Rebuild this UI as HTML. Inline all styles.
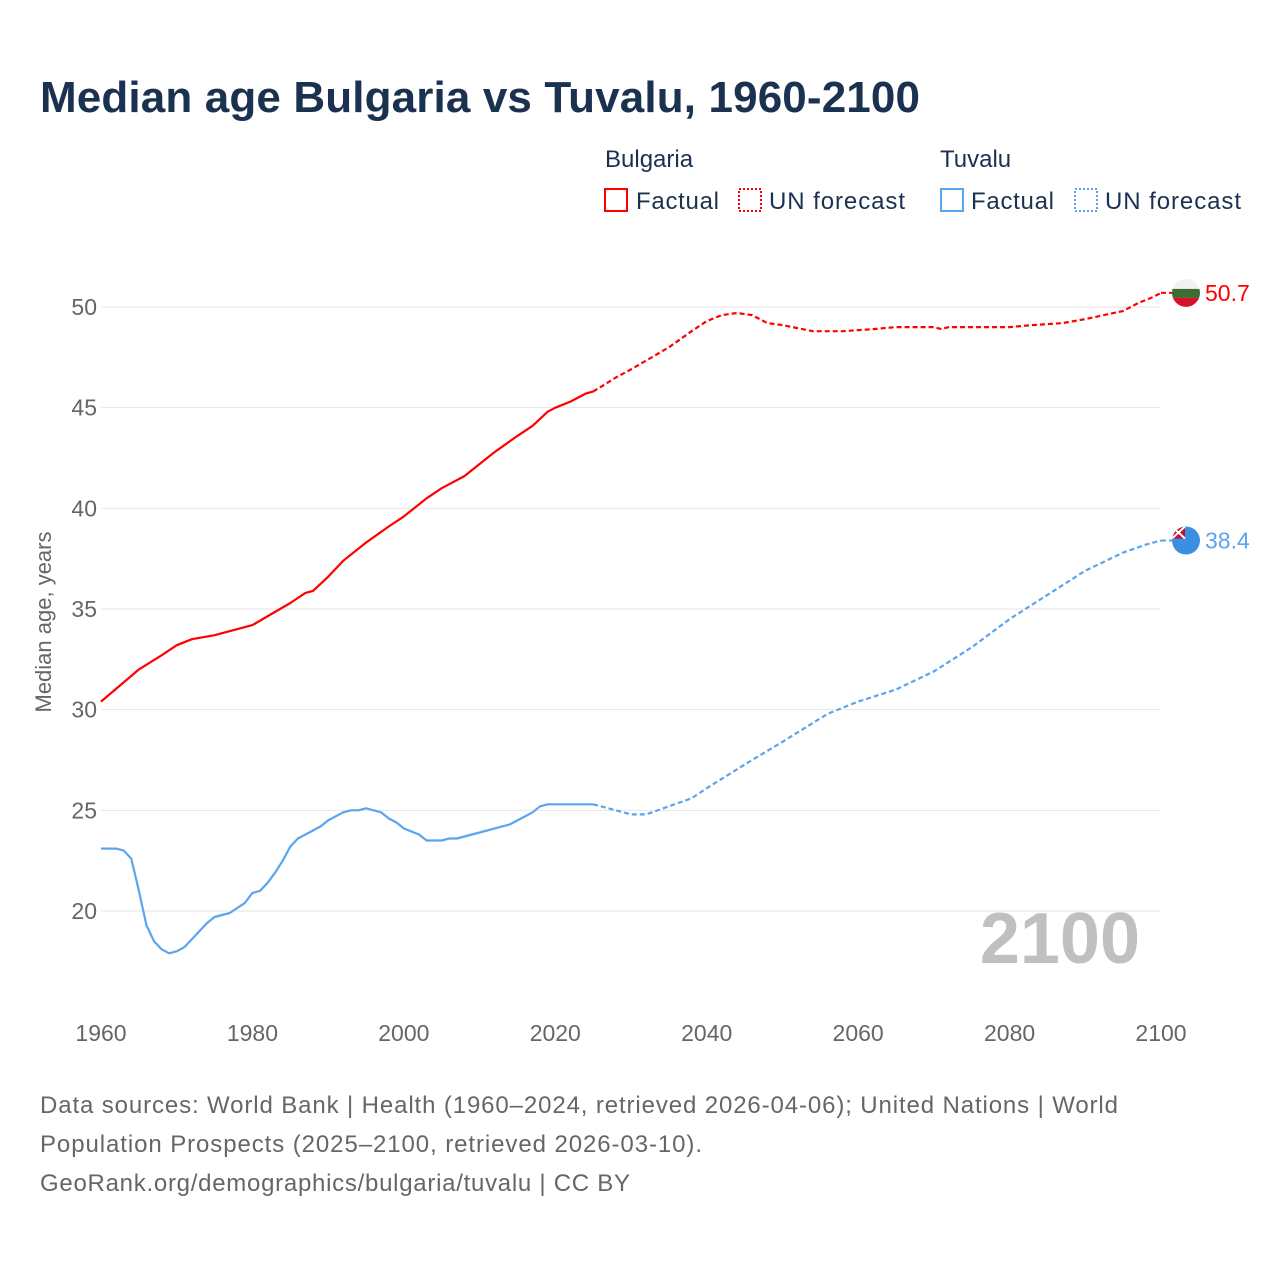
<!DOCTYPE html>
<html><head><meta charset="utf-8"><style>
body{margin:0;background:#fff;font-family:"Liberation Sans",sans-serif}
svg text{font-family:"Liberation Sans",sans-serif}
</style></head><body>
<svg width="1280" height="1280" viewBox="0 0 1280 1280">
<text x="40" y="112" font-size="44" font-weight="bold" fill="#1a3150" textLength="880">Median age Bulgaria vs Tuvalu, 1960-2100</text>
<g font-size="24" fill="#1a3150">
<text x="605" y="167">Bulgaria</text>
<rect x="605" y="189" width="22" height="22" fill="none" stroke="#f00" stroke-width="2"/>
<text x="636" y="209" textLength="83">Factual</text>
<rect x="739" y="189" width="22" height="22" fill="none" stroke="#f00" stroke-width="2" stroke-dasharray="2,2"/>
<text x="769" y="209" textLength="136">UN forecast</text>
<text x="940" y="167">Tuvalu</text>
<rect x="941" y="189" width="22" height="22" fill="none" stroke="#5aa5ee" stroke-width="2"/>
<text x="971" y="209" textLength="83">Factual</text>
<rect x="1075" y="189" width="22" height="22" fill="none" stroke="#5aa5ee" stroke-width="2" stroke-dasharray="2,2"/>
<text x="1105" y="209" textLength="136">UN forecast</text>
</g>
<g id="grid"></g>
<g id="marks"></g>
<text x="1140" y="963" font-size="72" font-weight="bold" fill="#c0c0c0" text-anchor="end">2100</text>
<text transform="translate(51,622) rotate(-90)" font-size="22" fill="#666" text-anchor="middle">Median age, years</text>
<g font-size="24" fill="#666">
<text x="40" y="1113" textLength="1078">Data sources: World Bank | Health (1960–2024, retrieved 2026-04-06); United Nations | World</text>
<text x="40" y="1152" textLength="662">Population Prospects (2025–2100, retrieved 2026-03-10).</text>
<text x="40" y="1191" textLength="590">GeoRank.org/demographics/bulgaria/tuvalu | CC BY</text>
</g>
</svg>
<script>
const yTicks=[20,25,30,35,40,45,50];
const xTicks=[1960,1980,2000,2020,2040,2060,2080,2100];
const bgYears=[1960,1965,1968,1970,1972,1975,1980,1985,1987,1988,1990,1992,1995,1998,2000,2003,2005,2008,2010,2012,2015,2017,2019,2020,2022,2024,2025];
const bgVals=[30.4,32.0,32.7,33.2,33.5,33.7,34.2,35.3,35.8,35.9,36.6,37.4,38.3,39.1,39.6,40.5,41.0,41.6,42.2,42.8,43.6,44.1,44.8,45.0,45.3,45.7,45.8];
const bgFYears=[2025,2028,2030,2035,2038,2040,2042,2044,2046,2048,2050,2054,2058,2062,2065,2070,2071,2072,2080,2083,2087,2090,2095,2097,2099,2100];
const bgFVals=[45.8,46.5,46.9,48.0,48.8,49.3,49.6,49.7,49.6,49.2,49.1,48.8,48.8,48.9,49.0,49.0,48.9,49.0,49.0,49.1,49.2,49.4,49.8,50.2,50.5,50.7];
const tvYears=[1960,1962,1963,1964,1965,1966,1967,1968,1969,1970,1971,1972,1973,1974,1975,1977,1979,1980,1981,1982,1983,1984,1985,1986,1988,1989,1990,1992,1993,1994,1995,1996,1997,1998,1999,2000,2002,2003,2005,2006,2007,2010,2013,2014,2016,2017,2018,2019,2024,2025];
const tvVals=[23.1,23.1,23.0,22.6,21.0,19.3,18.5,18.1,17.9,18.0,18.2,18.6,19.0,19.4,19.7,19.9,20.4,20.9,21.0,21.4,21.9,22.5,23.2,23.6,24.0,24.2,24.5,24.9,25.0,25.0,25.1,25.0,24.9,24.6,24.4,24.1,23.8,23.5,23.5,23.6,23.6,23.9,24.2,24.3,24.7,24.9,25.2,25.3,25.3,25.3];
const tvFYears=[2025,2028,2030,2032,2035,2038,2040,2043,2046,2050,2053,2056,2060,2065,2070,2075,2080,2085,2090,2095,2098,2100];
const tvFVals=[25.3,25.0,24.8,24.8,25.2,25.6,26.1,26.8,27.5,28.4,29.1,29.8,30.4,31.0,31.9,33.1,34.5,35.7,36.9,37.8,38.2,38.4];
const NS="http://www.w3.org/2000/svg";
const X=y=>101+(y-1960)*(1060/140);
const Y=v=>911-(v-20)*(604/30);
const grid=document.getElementById('grid'),marks=document.getElementById('marks');
function mk(t,a,p){const e=document.createElementNS(NS,t);for(const k in a)e.setAttribute(k,a[k]);p.appendChild(e);return e;}
yTicks.forEach(v=>{
 const l=mk('line',{x1:101,x2:1161,y1:Y(v),y2:Y(v),stroke:'#e6e6e6','stroke-width':1},grid);
 
 
 const t=mk('text',{x:97,y:Y(v)+8,'font-size':23,fill:'#666','text-anchor':'end'},grid);t.textContent=v;
 
 
});
xTicks.forEach(v=>{
 const t=mk('text',{x:X(v),y:1041,'font-size':23,fill:'#666','text-anchor':'middle'},grid);t.textContent=v;
 
 
});
function line(xs,vs,col,dash,name){
 const d=xs.map((x,i)=>(i?'L':'M')+X(x).toFixed(1)+','+Y(vs[i]).toFixed(1)).join('');
 const p=mk('path',{d:d,fill:'none',stroke:col,'stroke-width':2.2,'stroke-linejoin':'round'},marks);
 if(dash)p.setAttribute('stroke-dasharray','5,3');
 
 
}
line(bgYears,bgVals,'#f00',false,'bulgaria-factual-line');
line(bgFYears,bgFVals,'#f00',true,'bulgaria-forecast-line');
line(tvYears,tvVals,'#5aa5ee',false,'tuvalu-factual-line');
line(tvFYears,tvFVals,'#5aa5ee',true,'tuvalu-forecast-line');
const cx=1186;
const by=Y(bgFVals[bgFVals.length-1]), ty=Y(tvFVals[tvFVals.length-1]);
mk('line',{x1:X(2100),x2:cx,y1:by,y2:by,stroke:'#f00','stroke-width':2,'stroke-dasharray':'5,3'},marks);
mk('line',{x1:X(2100),x2:cx,y1:ty,y2:ty,stroke:'#5aa5ee','stroke-width':2,'stroke-dasharray':'5,3'},marks);
const defs=mk('defs',{},marks);
const c1=mk('clipPath',{id:'cb'},defs);mk('circle',{cx:cx,cy:by,r:14},c1);
const c2=mk('clipPath',{id:'ct'},defs);mk('circle',{cx:cx,cy:ty,r:14},c2);
const fb=mk('g',{'clip-path':'url(#cb)'},marks);


mk('rect',{x:cx-14,y:by-14,width:28,height:10,fill:'#f2f2f2'},fb);
mk('rect',{x:cx-14,y:by-4,width:28,height:9,fill:'#3e6b2f'},fb);
mk('rect',{x:cx-14,y:by+5,width:28,height:10,fill:'#d6122a'},fb);
const ft=mk('g',{'clip-path':'url(#ct)'},marks);


mk('rect',{x:cx-14,y:ty-14,width:28,height:28,fill:'#3a8fe0'},ft);
mk('rect',{x:cx-14,y:ty-14,width:13,height:12,fill:'#c8102e'},ft);
mk('path',{d:`M${cx-14},${ty-14}L${cx-1},${ty-2}M${cx-1},${ty-14}L${cx-14},${ty-2}`,stroke:'#fff','stroke-width':2},ft);
const l1=mk('text',{x:1205,y:by+8,'font-size':23,fill:'#f00'},marks);l1.textContent=bgFVals[bgFVals.length-1].toFixed(1);


const l2=mk('text',{x:1205,y:ty+8,'font-size':23,fill:'#5aa5ee'},marks);l2.textContent=tvFVals[tvFVals.length-1].toFixed(1);


</script>
</body></html>
